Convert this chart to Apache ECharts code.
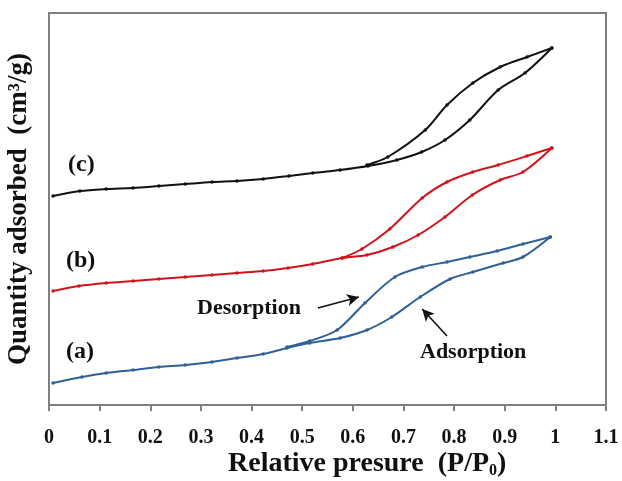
<!DOCTYPE html>
<html>
<head>
<meta charset="utf-8">
<script src="https://cdn.jsdelivr.net/npm/echarts@6/dist/echarts.min.js"></script>
<style>
html, body { margin: 0; padding: 0; background: #fff; }
#chart { width: 622px; height: 481px; }
</style>
</head>
<body>
<div id="chart"></div>
<script>
// relative pressure (P/P0) and quantity adsorbed (arbitrary, offset curves)
const aAdsP = [0.008, 0.065, 0.113, 0.166, 0.217, 0.269, 0.322, 0.371, 0.423, 0.470, 0.515, 0.575, 0.628, 0.677, 0.733, 0.792, 0.837, 0.897, 0.936, 0.99]
const aAdsQ = [22, 28, 32, 35, 38, 40, 43, 47, 51, 57, 62, 67, 75, 88, 108, 126, 133, 142, 148, 168]
const aDesP = [0.99, 0.936, 0.885, 0.831, 0.786, 0.737, 0.683, 0.624, 0.569, 0.515, 0.470]
const aDesQ = [168, 161, 154, 148, 143, 138, 128, 102, 75, 64, 58]

const bAdsP = [0.008, 0.059, 0.113, 0.166, 0.217, 0.269, 0.322, 0.371, 0.423, 0.472, 0.521, 0.579, 0.628, 0.679, 0.729, 0.782, 0.836, 0.891, 0.936, 0.993]
const bAdsQ = [114, 119, 122, 124, 126, 128, 130, 132, 134, 137, 141, 147, 150, 158, 170, 188, 210, 225, 233, 257]
const bDesP = [0.993, 0.944, 0.887, 0.837, 0.786, 0.737, 0.673, 0.618, 0.579]
const bDesQ = [257, 249, 240, 233, 223, 207, 176, 156, 147]

const cAdsP = [0.008, 0.061, 0.113, 0.166, 0.217, 0.269, 0.322, 0.371, 0.423, 0.474, 0.521, 0.575, 0.630, 0.687, 0.736, 0.782, 0.831, 0.887, 0.940, 0.993]
const cAdsQ = [209, 214, 216, 217, 219, 221, 223, 224, 226, 229, 232, 235, 239, 245, 253, 265, 285, 315, 332, 357]
const cDesP = [0.993, 0.944, 0.891, 0.837, 0.786, 0.743, 0.669, 0.628]
const cDesQ = [357, 348, 338, 322, 300, 275, 248, 240]

const xTicks = ['0', '0.1', '0.2', '0.3', '0.4', '0.5', '0.6', '0.7', '0.8', '0.9', '1', '1.1']

const blue = '#2f6096'
const red = '#d0141c'
const black = '#111111'
const axisGray = '#7f7f7f'
const serif = '"Liberation Serif", "DejaVu Serif", serif'

function pairs(xs, ys) {
    return xs.map((x, i) => [x, ys[i]])
}

function branch(name, xs, ys, color, extra) {
    return Object.assign({
        name: name,
        type: 'line',
        data: pairs(xs, ys),
        smooth: 0.3,
        symbol: 'circle',
        symbolSize: 3.5,
        lineStyle: { color: color, width: 2 },
        itemStyle: { color: color },
        z: 3
    }, extra || {})
}

const chart = echarts.init(document.getElementById('chart'))
const option = {
    backgroundColor: '#fff',
    animation: false,
    grid: {
        left: 49, right: 16, top: 13, bottom: 76,
        containLabel: false,
        outerBoundsMode: 'none',
        show: true,
        borderColor: axisGray,
        borderWidth: 2
    },
    xAxis: {
        type: 'value',
        min: 0, max: 1.1, interval: 0.1,
        axisLine: { lineStyle: { color: axisGray, width: 2 } },
        axisTick: { show: true, inside: false, length: 6, lineStyle: { color: axisGray, width: 2 } },
        axisLabel: {
            margin: 23,
            fontFamily: serif, fontWeight: 'bold', fontSize: 20, color: '#111',
            formatter: v => xTicks[Math.round(v * 10)]
        },
        splitLine: { show: false }
    },
    yAxis: {
        type: 'value',
        min: 0, max: 392,
        name: 'Quantity adsorbed  (cm³/g)',
        nameLocation: 'middle',
        nameGap: 16,
        nameTextStyle: { fontFamily: serif, fontWeight: 'bold', fontSize: 27, color: '#111' },
        axisLine: { lineStyle: { color: axisGray, width: 2 } },
        axisTick: { show: false },
        axisLabel: { show: false },
        splitLine: { show: false }
    },
    series: [
        branch('a-ads', aAdsP, aAdsQ, blue, {
            markLine: {
                silent: true,
                symbol: ['none', 'arrow'],
                symbolSize: [9, 12],
                label: { show: false },
                lineStyle: { color: black, width: 1.6, type: 'solid' },
                data: [
                    [{ coord: [0.531, 97] }, { coord: [0.612, 108] }],
                    [{ coord: [0.786, 69] }, { coord: [0.737, 96] }]
                ]
            }
        }),
        branch('a-des', aDesP, aDesQ, blue),
        branch('b-ads', bAdsP, bAdsQ, red),
        branch('b-des', bDesP, bDesQ, red),
        branch('c-ads', cAdsP, cAdsQ, black),
        branch('c-des', cDesP, cDesQ, black)
    ],
    graphic: [
        {
            type: 'text', left: 228, top: 450,
            style: {
                text: 'Relative presure  (P/P{sub|0})',
                font: 'bold 28px ' + serif, fill: '#111',
                rich: { sub: { font: 'bold 16px ' + serif, fill: '#111', verticalAlign: 'bottom', padding: [14, 0, 0, 0] } }
            }
        },
        { type: 'text', left: 68, top: 153, style: { text: '(c)', font: 'bold 24px ' + serif, fill: '#111' } },
        { type: 'text', left: 66, top: 249, style: { text: '(b)', font: 'bold 24px ' + serif, fill: '#111' } },
        { type: 'text', left: 66, top: 340, style: { text: '(a)', font: 'bold 24px ' + serif, fill: '#111' } },
        { type: 'text', left: 197, top: 297, style: { text: 'Desorption', font: 'bold 22px ' + serif, fill: '#111' } },
        { type: 'text', left: 420, top: 341, style: { text: 'Adsorption', font: 'bold 22px ' + serif, fill: '#111' } }
    ]
}
chart.setOption(option)
</script>
</body>
</html>
